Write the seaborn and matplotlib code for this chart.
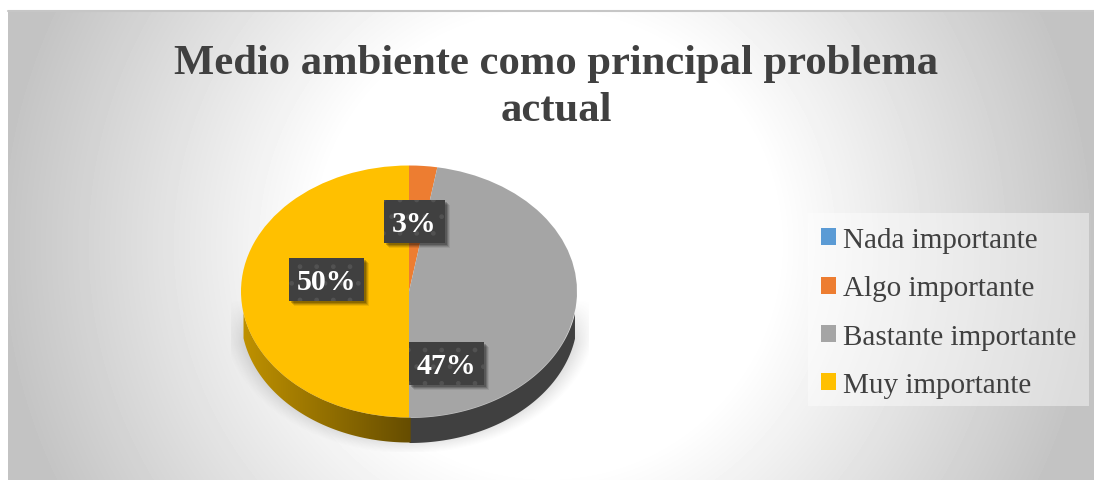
import numpy as np
import matplotlib
matplotlib.use("Agg")
import matplotlib.pyplot as plt
from matplotlib.patches import Rectangle
import seaborn as sns

categories = ["Nada importante", "Algo importante", "Bastante importante", "Muy importante"]
values = [0.0, 2.7, 47.3, 50.0]
colors = ["#5B9BD5", "#ED7D31", "#A5A5A5", "#FFC000"]
title = "Medio ambiente como principal problema\nactual"

W, H = 1094, 481
CX, CY, RX, RY, DEPTH = 409, 292.5, 168, 126, 25
label_centers = {1: (414.5, 222.5), 2: (446.5, 364.5), 3: (326.5, 280.5)}
INK = "#404040"
SERIF = "Liberation Serif"

sns.set_theme(style="white")
plt.rcParams["font.family"] = [SERIF, "DejaVu Serif"]
palette = sns.color_palette(colors)

fig = plt.figure(figsize=(W / 100, H / 100), dpi=100, facecolor="white")

# background panel with radial gradient
bg = fig.add_axes([0, 0, 1, 1])
yy, xx = np.mgrid[11:H, 8:W]
r = np.hypot(xx - 547, yy - 245)
shade = 1 - (1 - 0.765) * np.clip((r - 230) / (550 - 230), 0, 1)
bg.imshow(shade, extent=(8, W, H, 11), cmap="gray", vmin=0, vmax=1, aspect="auto", zorder=0)
bg.plot([8, W], [11.5, 11.5], color="#c6c6c6", lw=1.5, zorder=1)

# soft shadow underneath the disc
sy, sx = np.mgrid[300:453, 231:589]
rs = np.hypot((sx - CX) / 188, (sy - (CY + 24)) / 138)
alpha = 0.36 * np.clip((1 - rs) / 0.17, 0, 1) ** 1.2 * np.clip((sy - 300) / 45, 0, 1)
sh = np.zeros(sx.shape + (4,))
sh[..., :3] = 0.35
sh[..., 3] = alpha
bg.imshow(sh, extent=(231, 589, 453, 300), aspect="auto", zorder=2)
# legend panel
bg.add_patch(Rectangle((808, 214), 281, 193, facecolor="white", alpha=0.42, lw=0, zorder=3))
bg.set_xlim(0, W)
bg.set_ylim(H, 0)
bg.axis("off")

# pie axes: one data unit = one radius, stretched to an ellipse
ax = fig.add_axes([0, 0, 1, 1])
ax.patch.set_alpha(0)
d = DEPTH / RY
lims = dict(xlim=(-CX / RX, (W - CX) / RX), ylim=((CY - H) / RY, CY / RY))

# side wall
xl = np.linspace(-0.985, 0, 200)
xr = np.linspace(0, 0.985, 200)
ax.fill_between(xr, -np.sqrt(1 - xr**2), -np.sqrt(1 - xr**2) - d, color=INK, lw=0, zorder=2)
c0 = np.array([0xC0, 0x92, 0x00]) / 255
c1 = np.array([0x66, 0x4d, 0x00]) / 255
grad = np.linspace(0, 1, 256)[None, :, None] * (c1 - c0) + c0
im = ax.imshow(grad, extent=(-1, 0.01, -1.3, 0), aspect="auto", zorder=2)
xc = np.append(xl, 0.01)
yc = -np.sqrt(1 - np.append(xl, 0.0) ** 2)
wall_clip = ax.fill_between(xc, yc, yc - d, color="none", lw=0)
im.set_clip_path(wall_clip.get_paths()[0], transform=ax.transData)

wedges, _ = ax.pie(values, colors=palette, startangle=90, counterclock=False, radius=1,
                   wedgeprops=dict(linewidth=0, zorder=3))
ax.set_aspect("auto")
ax.set(**lims)
ax.axis("off")

# legend
ax.legend(wedges, categories, loc="upper left", bbox_to_anchor=(809 / W, 1 - 216 / H),
          bbox_transform=fig.transFigure, borderaxespad=0, frameon=False, fontsize=21,
          labelcolor="#404040", handlelength=0.52, handleheight=0.52, handletextpad=0.24,
          labelspacing=0.76, borderpad=0.42)

# title and data labels
over = fig.add_axes([0, 0, 1, 1])
over.patch.set_alpha(0)
over.set_xlim(0, W)
over.set_ylim(H, 0)
over.axis("off")
over.text(556, 87.5, title, ha="center", va="center", fontsize=30.7, fontweight="bold",
          color=INK, linespacing=1.34, family=SERIF)

fig.canvas.draw()
rend = fig.canvas.get_renderer()
for i, (cx, cy) in label_centers.items():
    t = over.text(cx, cy + 2.5, f"{values[i]:.0f}%", ha="center", va="center", fontsize=21.5,
                  fontweight="bold", color="white", family=SERIF, zorder=6)
    w = t.get_window_extent(rend).width + 16
    for off, a in [(5, 0.08), (4, 0.12), (3, 0.16), (2, 0.2)]:
        over.add_patch(Rectangle((cx - w / 2 + off, cy - 21.5 + off), w, 43, facecolor="black",
                                 alpha=a, lw=0, zorder=4))
    over.add_patch(Rectangle((cx - w / 2, cy - 21.5), w, 43, facecolor=INK, edgecolor="#525252",
                             hatch=".", lw=0, zorder=5))

fig.savefig("out.png", dpi=100)
